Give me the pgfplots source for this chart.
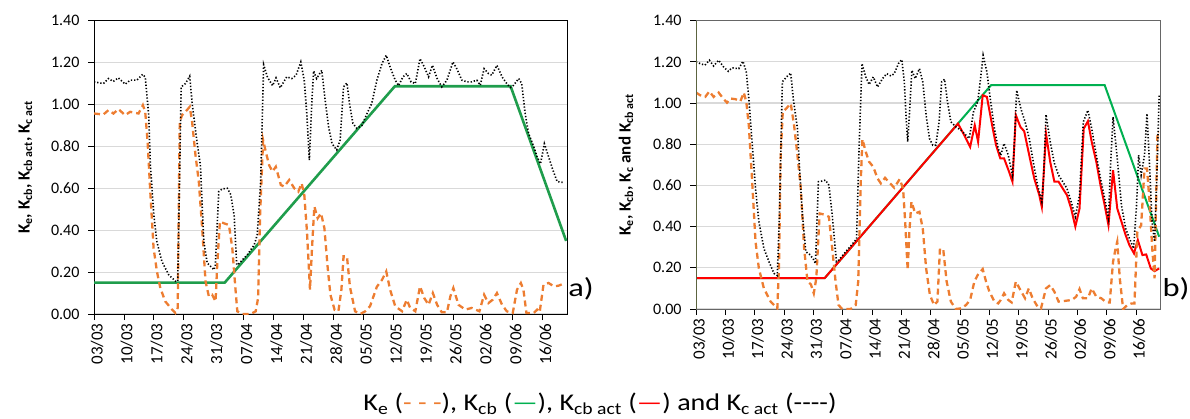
\documentclass[border=0pt]{standalone}
\usepackage{fontspec}
\setmainfont{Carlito}
\usepackage{pgfplots}
\pgfplotsset{compat=1.18}
\definecolor{keor}{HTML}{ED7D31}
\definecolor{kcbA}{HTML}{1F9D4C}
\definecolor{kcbB}{HTML}{00B050}
\definecolor{gridc}{HTML}{D9D9D9}
\definecolor{olivax}{HTML}{5C6440}
\pgfplotsset{myax/.style={
  scale only axis, xmin=0, xmax=110.7, ymin=0, ymax=1.4,
  ytick={0,0.2,0.4,0.6,0.8,1,1.2,1.4},
  yticklabel style={/pgf/number format/.cd, fixed, fixed zerofill, precision=2, assume math mode=true, /tikz/.cd, font=\fontsize{16}{19}\selectfont, xshift=-5pt},
  xtick={0,7,...,105},
  xticklabels={03/03,10/03,17/03,24/03,31/03,07/04,14/04,21/04,28/04,05/05,12/05,19/05,26/05,02/06,09/06,16/06},
  xticklabel style={rotate=90, anchor=east, font=\fontsize{17}{20}\selectfont, yshift=-3pt},
  tick align=outside, major tick length=6pt, xtick pos=bottom, ytick pos=left,
  ymajorgrids, grid style={gridc, line width=1.2pt},
  tick style={black, line width=0.8pt},
  ylabel style={font=\fontsize{17}{20}\selectfont\bfseries, anchor=center},
},
 keS/.style={keor, line width=2.3pt, dash pattern=on 6pt off 4pt},
 kcS/.style={black, line width=1.6pt, dash pattern=on 1.3pt off 1.9pt},
}
\begin{document}
\begin{tikzpicture}
\useasboundingbox (0,0) rectangle (1190pt,418pt);
% ---------------- panel a
\begin{axis}[myax, at={(94pt,104pt)}, anchor=south west, width=473pt, height=293.3pt,
  axis line style={black, line width=1pt},
  ylabel={K\textsubscript{e}, K\textsubscript{cb}, K\textsubscript{cb act}, K\textsubscript{c act}},
  ylabel style={at={(axis description cs:-0.145,0.5)}}]
\addplot[kcbA, line width=2.6pt] coordinates {(0,0.15)(30.6,0.15)(70.4,1.087)(97.5,1.087)(110.5,0.349)};
\addplot[keS] coordinates {
(0,0.957)(2.19,0.952)(3.37,0.973)(4.55,0.957)(5.72,0.978)(7.29,0.949)(8.46,0.965)(10.42,0.957)(11.44,0.997)(11.99,0.965)
(12.54,0.822)(13.17,0.584)(13.95,0.313)(14.73,0.203)(15.52,0.124)(16.69,0.06)(18.26,0.021)(19.04,0.005)(19.59,0.029)
(20.06,0.917)(20.61,0.949)(21.39,0.965)(22.41,0.989)(22.96,0.917)(23.75,0.759)(24.53,0.632)(25.31,0.41)(26.1,0.156)
(26.88,0.084)(27.66,0.092)(28.45,0.06)(28.84,0.235)(29.47,0.441)(30.41,0.433)(31.58,0.425)(32.37,0.314)(33.15,0.108)
(33.54,0.013)(34.72,0)(36.68,0)(37.85,0.013)(38.4,0.076)(38.87,0.473)(39.58,0.83)(40.2,0.775)(40.99,0.71)(41.77,0.68)
(42.55,0.703)(43.73,0.616)(44.51,0.608)(45.69,0.64)(46.87,0.6)(47.81,0.584)(48.59,0.624)(49.22,0.568)(49.84,0.394)
(50.55,0.116)(51.02,0.314)(51.57,0.513)(52.35,0.457)(53.13,0.481)(53.92,0.41)(54.7,0.219)(55.33,0.092)
(56.3,0.02)(57.2,0.013)(57.9,0.116)(58.4,0.275)(59.2,0.275)(59.9,0.13)(61.1,0.013)(62.3,0)(63.5,0.013)(64.6,0.037)
(66.2,0.13)(67.4,0.163)(68.4,0.203)(69.3,0.116)(70.5,0.037)(72.1,0.013)(73.2,0.068)(74,0.029)(75.2,0.013)(76.3,0.132)
(77.3,0.076)(78.3,0.044)(79.3,0.1)(80.3,0.044)(81.4,0.008)(82.6,0.008)(83.4,0.084)(84.1,0.124)(85.3,0.044)(86.9,0.021)
(88.4,0.029)(90.2,0.013)(91.3,0.092)(92.3,0.052)(93.3,0.068)(94.3,0.1)(95.5,0.044)(96.6,0.013)(98,0.005)(99,0.116)
(99.9,0.148)(100.5,0.116)(101.2,0.005)(102.9,0.005)(103.7,0.021)(104.3,0.008)(105.2,0.14)(106.4,0.148)(107.6,0.132)
(108.7,0.135)(110.3,0.148)};
\addplot[kcS] coordinates {
(0,1.108)(2.2,1.10)(3.4,1.124)(4.5,1.11)(5.7,1.127)(7.3,1.097)(8.5,1.116)(10,1.116)(11.4,1.144)(12,1.13)(12.8,0.95)
(13.2,0.71)(14,0.473)(14.7,0.346)(15.9,0.25)(17.5,0.187)(19.1,0.156)(19.6,0.156)(20.4,1.084)(21.4,1.10)(22.4,1.135)
(23,1.0)(24.1,0.822)(24.9,0.71)(25.7,0.346)(26.5,0.243)(27.3,0.227)(28.1,0.211)(28.4,0.235)(29.2,0.584)(30,0.597)
(31.2,0.6)(32,0.57)(32.8,0.47)(33.4,0.235)(33.9,0.24)(35.9,0.283)(37.5,0.33)(38.2,0.378)(39,0.63)(39.7,1.19)(40.6,1.13)
(41.8,1.09)(42.6,1.127)(43.6,1.08)(45.1,1.132)(46.3,1.124)(47.3,1.14)(48.4,1.203)(49.2,1.116)(49.8,0.957)(50.4,0.735)
(51,1.02)(51.4,1.16)(52.1,1.124)(53.3,1.163)(54.1,1.02)(54.9,0.894)(55.7,0.814)(56.8,0.783)(57.6,0.83)(58.4,1.084)
(59.2,1.103)(59.9,0.99)(60.6,0.91)(61.5,0.886)(62.7,0.9)(63.9,0.957)(65,1.005)(66.2,1.116)(67.4,1.195)(68.4,1.235)
(69.3,1.179)(70.5,1.116)(71.3,1.09)(72.3,1.132)(73.2,1.148)(74.2,1.108)(75.2,1.1)(76.3,1.219)(77.3,1.179)(78.3,1.132)
(79.2,1.187)(80.3,1.124)(81.4,1.084)(82.6,1.116)(84,1.203)(84.9,1.171)(86.1,1.116)(87.3,1.108)(88.4,1.108)(89.6,1.116)
(90.4,1.092)(91.3,1.171)(92.3,1.148)(93.1,1.14)(94.3,1.187)(95.5,1.132)(96.6,1.1)(97.4,1.081)(98.2,1.092)(99.4,1.124)
(100.1,1.1)(100.9,0.957)(101.7,0.862)(102.9,0.8)(103.7,0.75)(104.5,0.717)(105.4,0.813)(106.4,0.75)(107.4,0.687)
(108.4,0.632)(110,0.627)};
\end{axis}
% ---------------- panel b
\begin{axis}[myax, at={(696pt,109pt)}, anchor=south west, width=464pt, height=288.3pt,
  axis line style={black!60, line width=1pt},
  ylabel={K\textsubscript{e}, K\textsubscript{cb}, K\textsubscript{c} and K\textsubscript{cb act}},
  ylabel style={at={(axis description cs:-0.151,0.5)}}]
\addplot[kcbB, line width=2pt] coordinates {(0,0.15)(30.7,0.15)(70.4,1.087)(97.5,1.087)(110.5,0.351)};
\addplot[red, line width=2pt] coordinates {
(0,0.15)(30.7,0.15)(62.5,0.9)(64,0.844)(65.4,0.787)(66.5,0.892)(67.3,0.812)(68.4,1.038)(69.4,1.03)(70.8,0.876)
(71.6,0.795)(72.6,0.731)(73.5,0.731)(74.7,0.666)(75.5,0.618)(76.3,0.941)(77.4,0.884)(78.3,0.863)(79.5,0.747)(80.7,0.634)
(81.9,0.553)(82.5,0.496)(83.5,0.852)(84.5,0.715)(85.5,0.618)(86.5,0.618)(87.5,0.585)(88.5,0.553)(89.5,0.488)(90.5,0.4)
(91.5,0.488)(92.5,0.876)(93.5,0.912)(94.4,0.812)(95.5,0.715)(96.5,0.601)(97.5,0.504)(98.4,0.407)(99.5,0.674)(100.5,0.488)
(101.5,0.424)(102.5,0.359)(103.4,0.31)(104.5,0.27)(105.4,0.335)(106.5,0.262)(107.4,0.265)(108.5,0.197)(109.4,0.184)(110.5,0.197)};
\addplot[keS] coordinates {
(0,1.051)(1,1.038)(2.2,1.03)(3.2,1.057)(4.2,1.03)(5.4,1.051)(6.6,1.019)(7.4,1.002)(8.2,1.022)(9.4,1.019)(10.6,1.009)
(11.4,1.051)(12,1.006)(12.6,0.892)(13.4,0.618)(14.2,0.327)(15,0.197)(16.2,0.1)(17.8,0.036)(19,0.011)(19.4,0.003)
(19.8,0.213)(20.2,0.747)(20.7,0.957)(21.5,0.973)(22.6,0.998)(23.4,0.892)(24.2,0.747)(25,0.585)(25.8,0.294)(26.6,0.133)
(27.4,0.12)(28.1,0.076)(28.7,0.149)(29.5,0.464)(30.5,0.459)(31.7,0.448)(32.5,0.294)(33.3,0.133)(34,0.019)(34.9,0)
(36.9,0)(38.1,0.019)(38.7,0.133)(39.3,0.618)(39.7,0.825)(40.5,0.763)(41.3,0.715)(42.3,0.69)(43.3,0.634)(44.1,0.61)
(45.1,0.637)(46.3,0.61)(47.3,0.589)(48.6,0.631)(49.4,0.585)(49.9,0.424)(50.5,0.189)(50.9,0.375)(51.4,0.521)(52.3,0.464)
(53.3,0.472)(54.1,0.391)(54.9,0.197)(55.8,0.068)(56.8,0.019)(57.6,0.036)(58.2,0.294)(59,0.286)(59.8,0.133)(60.8,0.036)
(62,0)(63.2,0.003)(64.4,0.019)(65.4,0.044)(66.4,0.133)(67.2,0.165)(68.4,0.194)(69.2,0.133)(70,0.084)(71.2,0.036)
(72.1,0.027)(72.7,0.044)(73.5,0.076)(74.5,0.044)(75.3,0.032)(76.3,0.133)(77.4,0.092)(78.5,0.052)(79.4,0.1)(80.3,0.052)
(81.5,0.011)(82.3,0.003)(83.5,0.1)(84.5,0.116)(85.5,0.084)(86.5,0.036)(87.9,0.039)(89.7,0.044)(90.7,0.06)(91.5,0.097)
(92.3,0.052)(93.5,0.052)(94.4,0.1)(95.5,0.06)(96.7,0.052)(97.9,0.032)(98.7,0.032)(99.5,0.23)(100.1,0.294)(100.5,0.327)
(101.1,0.149)(101.9,0)(102.9,0.019)(103.9,0.027)(104.6,0.027)(105.3,0.375)(106.2,0.407)(107,0.682)(107.6,0.682)
(108.2,0.521)(108.9,0.278)(109.4,0.149)(110.1,0.86)(110.5,0.86)};
\addplot[kcS] coordinates {
(0,1.2)(1,1.192)(2.1,1.184)(3.2,1.208)(4.2,1.18)(5.4,1.208)(6.6,1.175)(7.7,1.154)(8.6,1.171)(10.2,1.167)(11.2,1.203)
(12,1.151)(12.6,1.022)(13.2,0.86)(14.2,0.585)(15,0.424)(16.2,0.294)(17.4,0.23)(18.6,0.173)(19.4,0.162)(19.9,0.456)
(20.6,1.103)(21.6,1.127)(22.6,1.146)(23.2,1.022)(24.2,0.876)(24.7,0.682)(25.4,0.456)(26.2,0.278)(27.1,0.265)(27.9,0.246)
(28.5,0.221)(29.2,0.618)(30,0.621)(30.9,0.626)(31.7,0.601)(32.5,0.456)(33.5,0.23)(34.1,0.238)(35.7,0.278)(37.3,0.315)
(38.3,0.34)(38.9,0.779)(39.6,1.192)(40.5,1.127)(41.3,1.09)(42.3,1.127)(43.3,1.078)(44.5,1.119)(45.5,1.143)(46.5,1.132)
(47.3,1.143)(48.3,1.192)(49.1,1.211)(49.7,1.103)(50.1,0.941)(50.5,0.812)(50.9,0.941)(51.5,1.159)(52.3,1.119)(53.3,1.167)
(54.1,1.103)(54.9,0.941)(55.7,0.828)(56.5,0.795)(57.2,0.795)(58,0.909)(58.6,1.103)(59.3,1.116)(60,1.006)(60.8,0.909)
(62,0.884)(63.2,0.868)(64.4,0.844)(65.2,0.828)(66.2,0.957)(67.2,1.006)(67.8,1.103)(68.5,1.232)(69.4,1.151)(70.2,1.022)
(71.2,0.876)(72.1,0.779)(72.7,0.747)(73.5,0.804)(74.5,0.747)(75.5,0.65)(75.9,0.78)(76.5,1.062)(77.5,0.973)(78.5,0.909)
(79.5,0.828)(80.6,0.698)(81.5,0.601)(82.5,0.521)(82.9,0.633)(83.5,0.944)(84.5,0.812)(85.5,0.707)(86.5,0.65)(87.5,0.618)
(88.5,0.585)(89.5,0.521)(90.5,0.448)(91.5,0.553)(92.4,0.909)(93.5,0.965)(94.4,0.876)(95.5,0.747)(96.5,0.634)(97.5,0.537)
(98.4,0.44)(98.9,0.7)(99.5,0.933)(100.5,0.731)(101.5,0.504)(102.5,0.391)(103.4,0.343)(104.4,0.294)(105.1,0.504)
(105.6,0.747)(106.2,0.65)(107,0.747)(107.6,0.949)(108.2,0.699)(108.8,0.424)(109.4,0.327)(109.9,0.618)(110.5,1.038)};
\draw[olivax, line width=2pt] (axis cs:0,0) -- (axis cs:0,1.4);
\end{axis}
\node[font=\fontsize{26}{30}\selectfont] at (581pt,129pt) {\scalebox{1.25}[1]{a)}};
\node[font=\fontsize{26}{30}\selectfont] at (1176pt,129pt) {\scalebox{1.25}[1]{b)}};
\node[font=\fontsize{24}{28}\selectfont] at (600pt,14pt) {\scalebox{1.17}[1]{K\textsubscript{e} (\textcolor{keor}{- - -}), K\textsubscript{cb} (\textcolor{kcbB}{---}), K\textsubscript{cb act} (\textcolor{red}{---}) and K\textsubscript{c act} ({-}{-}{-}{-})}};
\end{tikzpicture}
\end{document}
